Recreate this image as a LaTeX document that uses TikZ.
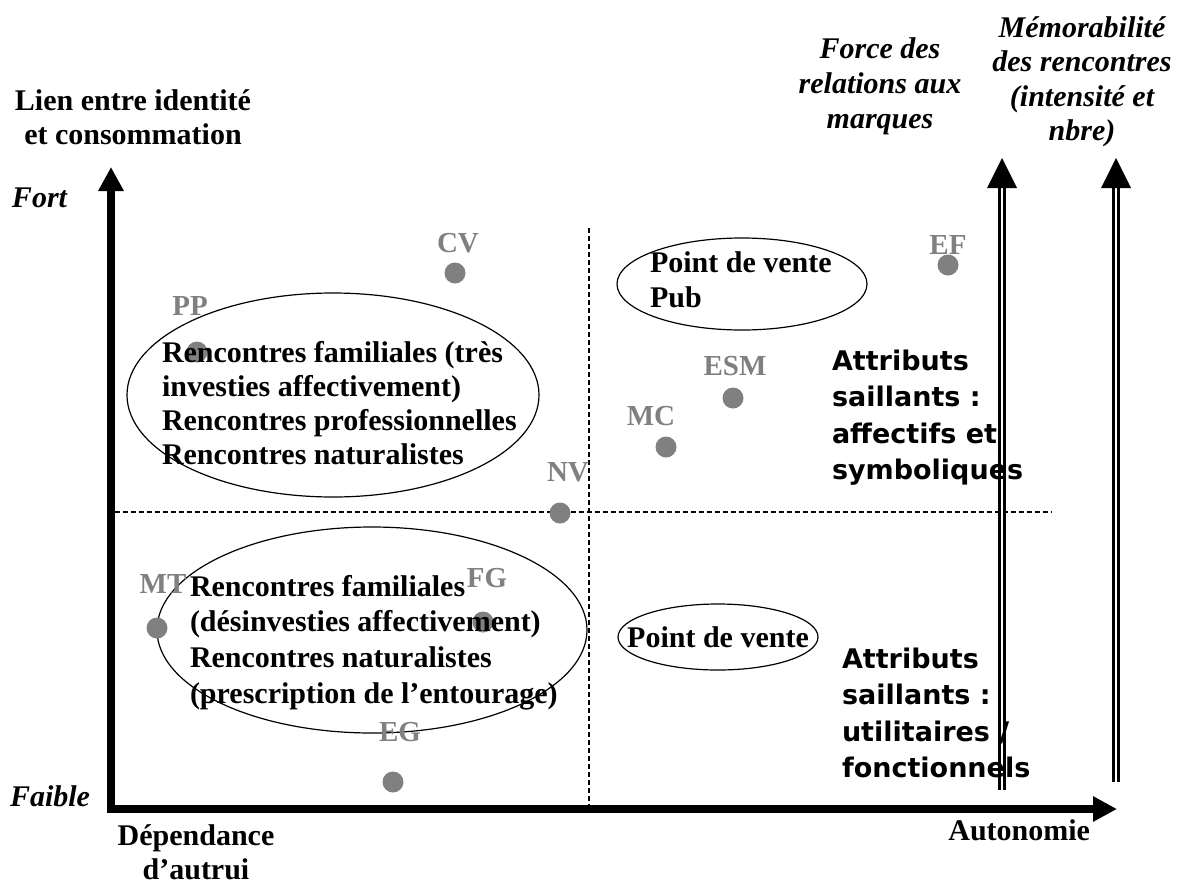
\documentclass[tikz,border=0pt]{standalone}
\usepackage{fontspec}
\setmainfont{Liberation Serif}
\newfontfamily\attrfont{DejaVu Sans}
\usetikzlibrary{arrows.meta,shapes.geometric}
\definecolor{ptgray}{RGB}{128,128,128}
% stacked lines: first row's baseline is the node's base
\newcommand{\leftrows}[1]{\begin{tabular}[t]{@{}l@{}}#1\end{tabular}}
\newcommand{\centerrows}[1]{\begin{tabular}[t]{@{}c@{}}#1\end{tabular}}
\begin{document}
\begin{tikzpicture}[x=1pt,y=-1pt,
  every node/.style={inner sep=0pt, outer sep=0pt},
  txt/.style={font=\fontsize{30}{34}\selectfont\bfseries},
  itl/.style={font=\fontsize{30}{35}\selectfont\bfseries\itshape},
  attr/.style={font=\attrfont\fontsize{27}{36.5}\selectfont\bfseries},
  ptlabel/.style={font=\fontsize{29}{34}\selectfont\bfseries, text=ptgray},
  pt/.style={circle, fill=ptgray, minimum size=21pt},
  oval/.style={ellipse, draw, line width=1.2pt},
  axisline/.style={line width=8pt, line join=miter,
    {Triangle[length=24pt,width=24pt]}-{Triangle[length=24pt,width=24pt]}},
  guide/.style={line width=2pt, dash pattern=on 5pt off 3pt},
  dblshaft/.style={double, double distance=2.5pt, line width=2.7pt},
]
\useasboundingbox (0,0) rectangle (1187,887);

% main axes
\coordinate (ytip) at (111,167);
\coordinate (corner) at (111,809);
\coordinate (xtip) at (1117,809);
\draw[axisline] (ytip) -- (corner) -- (xtip);

% quadrant guides
\coordinate (hl) at (115,512);
\coordinate (hr) at (1052,512);
\coordinate (vt) at (589,228);
\coordinate (vb) at (589,805);
\draw[guide] (hl) -- (hr);
\draw[guide] (vt) -- (vb);

% double-line scales on the right
\coordinate (f0) at (1002,790);
\coordinate (f1) at (1002,188);
\coordinate (m0) at (1116,782);
\coordinate (m1) at (1116,188);
\draw[dblshaft] (f0) -- (f1);
\fill (f1) ++(-15,0) -- ++(15,-30) -- ++(15,30) -- cycle;
\draw[dblshaft] (m0) -- (m1);
\fill (m1) ++(-15,0) -- ++(15,-30) -- ++(15,30) -- cycle;

% axis titles
\node[txt, anchor=base] (ylab) at (133,110)
  {\centerrows{Lien entre identité\\et consommation}};
\node[itl, anchor=base west] (fort) at (12,207) {Fort};
\node[itl, anchor=base west] (faible) at (10,806) {Faible};
\node[txt, anchor=base] (dep) at (196,845)
  {\centerrows{Dépendance\\d’autrui}};
\node[txt, anchor=base east] (auto) at (1090,840) {Autonomie};
\node[itl, anchor=base] (force) at (880,58)
  {\centerrows{Force des\\relations aux\\marques}};
\node[itl, font=\fontsize{30}{34.5}\selectfont\bfseries\itshape, anchor=base] (memo) at (1082,37)
  {\centerrows{Mémorabilité\\des rencontres\\(intensité et\\nbre)}};

% ovals
\node[oval, minimum width=412pt, minimum height=204pt] (o1) at (333,395) {};
\node[oval, minimum width=430pt, minimum height=206pt] (o2) at (372,630) {};
\node[oval, minimum width=250pt, minimum height=92pt] (o3) at (742,284) {};
\node[oval, minimum width=200pt, minimum height=66pt] (o4) at (718,637) {};

% points
\node[pt] (cv) at (455,273) {};
\node[pt] (pp) at (197,352) {};
\node[pt] (ef) at (948,265) {};
\node[pt] (esm) at (733,398) {};
\node[pt] (mc) at (666,447) {};
\node[pt] (nv) at (560,513) {};
\node[pt] (mt) at (157,628) {};
\node[pt] (fg) at (483,622) {};
\node[pt] (eg) at (393,782) {};

\node[ptlabel] (cvl) at (458,243) {CV};
\node[ptlabel] (ppl) at (190,306) {PP};
\node[ptlabel] (efl) at (948,245) {EF};
\node[ptlabel] (esml) at (735,366) {ESM};
\node[ptlabel] (mcl) at (651,416) {MC};
\node[ptlabel] (nvl) at (568,472) {NV};
\node[ptlabel] (mtl) at (163,584) {MT};
\node[ptlabel] (fgl) at (487,578) {FG};
\node[ptlabel] (egl) at (400,732) {EG};

% oval contents
\node[txt, anchor=base west] (t1) at (162,362)
  {\leftrows{Rencontres familiales (très\\investies affectivement)\\Rencontres professionnelles\\Rencontres naturalistes}};
\node[txt, font=\fontsize{30}{35.7}\selectfont\bfseries, anchor=base west] (t2) at (190,596)
  {\leftrows{Rencontres familiales\\(désinvesties affectivement)\\Rencontres naturalistes\\(prescription de l’entourage)}};
\node[txt, font=\fontsize{30}{35}\selectfont\bfseries, anchor=base west] (t3) at (650,272)
  {\leftrows{Point de vente\\Pub}};
\node[txt, anchor=base] (t4) at (718,647) {Point de vente};

% salient attributes
\node[attr, anchor=base west] (a1) at (832,370)
  {\leftrows{Attributs\\saillants :\\affectifs et\\symboliques}};
\node[attr, anchor=base west] (a2) at (842,668)
  {\leftrows{Attributs\\saillants :\\utilitaires /\\fonctionnels}};
\end{tikzpicture}
\end{document}
